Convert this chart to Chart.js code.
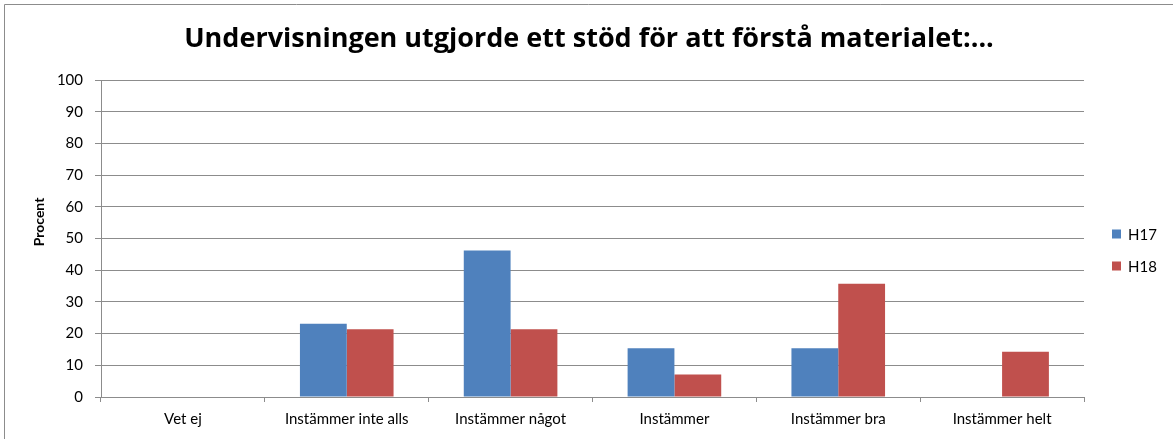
<!DOCTYPE html>
<html>
<head>
<meta charset="utf-8">
<script src="https://cdn.jsdelivr.net/npm/chart.js@4"></script>
<style>
  html, body { margin: 0; padding: 0; background: #fff; }
  #wrap { width: 1173px; height: 439px; }
</style>
</head>
<body>
<div id="wrap"><canvas id="chart" width="1173" height="439"></canvas></div>
<script>
// Enkätsvar: andel (%) per svarsalternativ, H17 mot H18
const categories = ['Vet ej', 'Instämmer inte alls', 'Instämmer något', 'Instämmer', 'Instämmer bra', 'Instämmer helt'];
const seriesNames = ['H17', 'H18'];
const h17 = [0, 23.1, 46.2, 15.4, 15.4, 0];
const h18 = [0, 21.4, 21.4, 7.1, 35.7, 14.3];
const yTicks = [0, 10, 20, 30, 40, 50, 60, 70, 80, 90, 100];
const titleText = 'Undervisningen utgjorde ett stöd för att förstå materialet:...';
const yTitle = 'Procent';

const FONT = 'Lato, "Open Sans", sans-serif';
const GRID = '#8c8c8c';

// ram (övre och vänstra kanten) och rubriker
const decor = {
    id: 'decor',
    afterDraw(chart) {
        const ctx = chart.ctx;
        ctx.save();
        ctx.strokeStyle = GRID;
        ctx.lineWidth = 1;
        ctx.beginPath();
        ctx.moveTo(4.5, chart.height);
        ctx.lineTo(4.5, 4.5);
        ctx.lineTo(chart.width, 4.5);
        ctx.stroke();

        ctx.fillStyle = '#000';
        ctx.textAlign = 'center';
        ctx.textBaseline = 'alphabetic';
        ctx.font = 'bold 27px "Open Sans", sans-serif';
        ctx.fillText(titleText, 589, 47);

        ctx.translate(39, 222);
        ctx.rotate(-Math.PI / 2);
        ctx.textBaseline = 'middle';
        ctx.font = 'bold 14px ' + FONT;
        ctx.fillText(yTitle, 0, 0);
        ctx.restore();
    }
};

// förklaring till höger, ritad ur datasetens färger och namn
const sideLegend = {
    id: 'sideLegend',
    afterDraw(chart) {
        const ctx = chart.ctx;
        const x = chart.chartArea.right + 28;
        const y0 = 234;
        ctx.save();
        ctx.font = '15px ' + FONT;
        ctx.textBaseline = 'middle';
        chart.data.datasets.forEach((ds, i) => {
            const y = y0 + i * 32;
            ctx.fillStyle = ds.backgroundColor;
            ctx.fillRect(x, y - 4.5, 9, 9);
            ctx.fillStyle = '#000';
            ctx.fillText(ds.label, x + 16, y + 1);
        });
        ctx.restore();
    }
};

new Chart(document.getElementById('chart'), {
    type: 'bar',
    data: {
        labels: categories,
        datasets: [
            { label: seriesNames[0], data: h17, backgroundColor: '#4F81BD' },
            { label: seriesNames[1], data: h18, backgroundColor: '#C0504D' }
        ]
    },
    options: {
        responsive: false,
        animation: false,
        layout: { padding: { left: 0, right: 89, top: 80, bottom: 0 } },
        datasets: { bar: { categoryPercentage: 2 / 3.5, barPercentage: 1 } },
        plugins: {
            legend: { display: false },
            tooltip: { enabled: false },
            title: { display: false }
        },
        scales: {
            x: {
                grid: { drawOnChartArea: false, drawTicks: true, tickLength: 5, color: GRID, offset: true },
                border: { color: GRID },
                ticks: { color: '#000', font: { family: FONT, size: 15 }, padding: 8, maxRotation: 0 },
                afterFit(scale) { scale.height = 42; }
            },
            y: {
                min: 0,
                max: 100,
                afterBuildTicks(scale) { scale.ticks = yTicks.map(v => ({ value: v })); },
                grid: { color: GRID, tickLength: 6 },
                border: { color: GRID },
                ticks: { color: '#000', font: { family: FONT, size: 15 }, padding: 12 },
                afterFit(scale) { scale.width = 101; }
            }
        }
    },
    plugins: [decor, sideLegend]
});
</script>
</body>
</html>
